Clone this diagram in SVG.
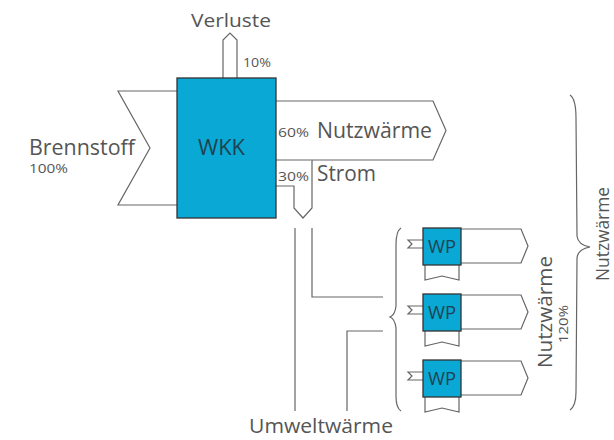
<svg xmlns="http://www.w3.org/2000/svg" width="614" height="440" viewBox="0 0 614 440">
<style>
.ln{fill:none;stroke:#666;stroke-width:1.2;stroke-linejoin:miter}
.ar{fill:#fff;stroke:#666;stroke-width:1.2}
.box{fill:#0aa8d4;stroke:#333;stroke-width:1.3}
.t{font-family:"Open Sans","Noto Sans","Liberation Sans",sans-serif;fill:#555}
.bt{font-family:"Open Sans","Noto Sans","Liberation Sans",sans-serif;fill:#1e4350}
</style>
<rect width="614" height="440" fill="#fff"/>
<g id="connectors">
<path class="ar" d="M177,91 H118 L150,148 L118,205 H177"/>
<path class="ar" d="M223,78 V40 L230,33 L237,40 V78"/>
<path class="ar" d="M276,101 H433 L446,130.5 L433,160 H276"/>
<path class="ar" d="M312,160 V208 L303,218 L294,208 V186 H276"/>
<path class="ln" d="M295,228 V411"/>
<path class="ln" d="M312,228 V297 H383"/>
<path class="ln" d="M347,411 V331 H383"/>
<path class="ln" d="M401,228 Q396,231 396,245 L396,306 Q395,315 390,317 Q395,319 396,328 L396,396 Q396,408 401,411"/>
<path class="ln" d="M570,95 Q576,99 576,118 L577,236 Q578,245 590,247 Q578,249 577,258 L576,392 Q576,406 570,410"/>
</g>
<g id="wkk">
<rect class="box" x="177" y="78" width="99" height="140"/>
<text class="bt" x="198" y="155" font-size="21" textLength="47" lengthAdjust="spacingAndGlyphs">WKK</text>
</g>
<g id="labels">
<text class="t" x="191" y="27" font-size="18" textLength="80" lengthAdjust="spacingAndGlyphs">Verluste</text>
<text class="t" x="243" y="67" font-size="12.5" textLength="28" lengthAdjust="spacingAndGlyphs">10%</text>
<text class="t" x="29" y="155" font-size="21" textLength="106" lengthAdjust="spacingAndGlyphs">Brennstoff</text>
<text class="t" x="29" y="173" font-size="12.5" textLength="39" lengthAdjust="spacingAndGlyphs">100%</text>
<text class="t" x="278" y="137" font-size="13" textLength="31" lengthAdjust="spacingAndGlyphs">60%</text>
<text class="t" x="317" y="138" font-size="21" textLength="115" lengthAdjust="spacingAndGlyphs">Nutzwärme</text>
<text class="t" x="278" y="181" font-size="13" textLength="31" lengthAdjust="spacingAndGlyphs">30%</text>
<text class="t" x="317" y="181" font-size="21" textLength="59" lengthAdjust="spacingAndGlyphs">Strom</text>
<text class="t" x="249" y="433" font-size="20" textLength="144" lengthAdjust="spacingAndGlyphs">Umweltwärme</text>
<text class="t" transform="translate(552,368) rotate(-90)" font-size="20" textLength="112" lengthAdjust="spacingAndGlyphs">Nutzwärme</text>
<text class="t" transform="translate(568,343) rotate(-90)" font-size="12.5" textLength="38" lengthAdjust="spacingAndGlyphs">120%</text>
<text class="t" transform="translate(609,281) rotate(-90)" font-size="19" textLength="94" lengthAdjust="spacingAndGlyphs">Nutzwärme</text>
</g>
<g id="wp1">
<path class="ar" d="M461,229 H521 L528,246 L521,263 H461"/>
<path class="ar" d="M423,240 H408 L412,244 L408,248 H423"/>
<path class="ar" d="M425,265 V280 L442,276 L459,280 V265"/>
<rect class="box" x="423" y="228" width="38" height="37"/>
<text class="bt" x="428" y="253" font-size="19" textLength="28" lengthAdjust="spacingAndGlyphs">WP</text>
</g>
<g id="wp2">
<path class="ar" d="M461,295 H521 L528,312 L521,329 H461"/>
<path class="ar" d="M423,306 H408 L412,310 L408,314 H423"/>
<path class="ar" d="M425,331 V346 L442,342 L459,346 V331"/>
<rect class="box" x="423" y="294" width="38" height="37"/>
<text class="bt" x="428" y="319" font-size="19" textLength="28" lengthAdjust="spacingAndGlyphs">WP</text>
</g>
<g id="wp3">
<path class="ar" d="M461,361 H521 L528,378 L521,395 H461"/>
<path class="ar" d="M423,372 H408 L412,376 L408,380 H423"/>
<path class="ar" d="M425,397 V412 L442,408 L459,412 V397"/>
<rect class="box" x="423" y="360" width="38" height="37"/>
<text class="bt" x="428" y="385" font-size="19" textLength="28" lengthAdjust="spacingAndGlyphs">WP</text>
</g>
</svg>
